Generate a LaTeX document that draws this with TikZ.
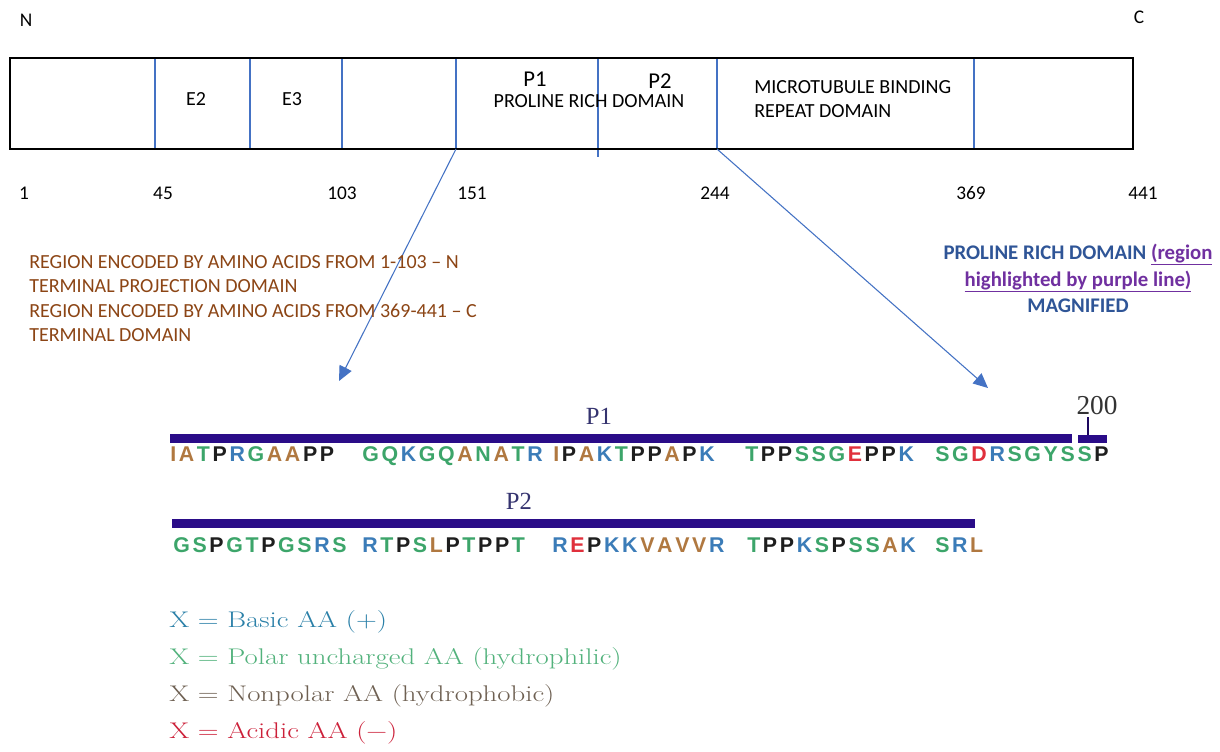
\documentclass[tikz,border=0pt]{standalone}
\usepackage{fontspec}
\usepackage{graphicx}
\usetikzlibrary{arrows.meta}
\newfontfamily\calib{Carlito}
\newfontfamily\seqf{Liberation Sans}
\newfontfamily\timesf{Liberation Serif}
\definecolor{lblue}{HTML}{4472C4}
\definecolor{dblue}{HTML}{2F5597}
\definecolor{purp}{HTML}{7030A0}
\definecolor{ornge}{HTML}{8C4515}
\definecolor{barc}{HTML}{2A0C88}
\definecolor{plab}{HTML}{35336F}
\definecolor{cB}{HTML}{3B7CB8}
\definecolor{cU}{HTML}{3CA56A}
\definecolor{cN}{HTML}{B07840}
\definecolor{cA}{HTML}{E0303C}
\definecolor{cP}{HTML}{1E1E1E}
\definecolor{lgB}{HTML}{2A80A8}
\definecolor{lgU}{HTML}{52B27C}
\definecolor{lgN}{HTML}{6E6052}
\definecolor{lgA}{HTML}{CC2039}
\colorlet{sqK}{cB}\colorlet{sqR}{cB}\colorlet{sqH}{cB}
\colorlet{sqS}{cU}\colorlet{sqT}{cU}\colorlet{sqN}{cU}\colorlet{sqQ}{cU}
\colorlet{sqG}{cU}\colorlet{sqY}{cU}\colorlet{sqC}{cU}
\colorlet{sqA}{cN}\colorlet{sqV}{cN}\colorlet{sqL}{cN}\colorlet{sqI}{cN}
\colorlet{sqM}{cN}\colorlet{sqF}{cN}\colorlet{sqW}{cN}
\colorlet{sqD}{cA}\colorlet{sqE}{cA}
\colorlet{sqP}{cP}
\newlength\sqsp
\setlength\sqsp{2pt}
\def\sqrun#1{\ifx#1\relax\else\textcolor{sq#1}{#1}\kern\sqsp\expandafter\sqrun\fi}
\newcommand\sqgroup[1]{\sqrun#1\relax}
\newcommand\legtext[1]{\scalebox{1.27}[1]{#1}}
\begin{document}
\begin{tikzpicture}[x=0.75pt,y=-0.75pt,
  lbl/.style={inner sep=0pt, anchor=base},
  boxtxt/.style={lbl, font=\calib\fontsize{15}{18}\selectfont},
  bigtxt/.style={lbl, font=\calib\fontsize{17}{20}\selectfont},
  numtxt/.style={lbl, font=\calib\fontsize{14.5}{17}\selectfont},
  orgtxt/.style={lbl, anchor=base west, text=ornge, font=\calib\fontsize{15}{18}\selectfont},
  rtxt/.style={lbl, text=dblue, font=\calib\bfseries\fontsize{15.6}{19}\selectfont},
  seq/.style={lbl, anchor=base west, font=\seqf\bfseries\fontsize{16}{18}\selectfont},
  plbl/.style={lbl, text=plab, font=\timesf\fontsize{18.5}{20}\selectfont},
  leg/.style={lbl, anchor=base west, font=\fontsize{17}{20}\selectfont},
  divline/.style={draw=lblue, line width=0.8pt},
  arr/.style={draw=lblue, line width=0.8pt, -{Triangle[length=11pt,width=10pt]}},
  bar/.style={fill=barc}]
\useasboundingbox (0,0) rectangle (1220,751);
\fill[white] (0,0) rectangle (1220,751);

% domain dividers
\foreach \xx in {155,250,342,456,717,974} \draw[divline] (\xx,58) -- (\xx,149);
\draw[divline] (598,58) -- (598,157);
% outer box
\draw[line width=2.2pt] (10,58) rectangle (1133,149);

% ends
\node[numtxt] (nN) at (26,26) {N};
\node[numtxt] (nC) at (1139,23) {C};

% labels in box
\node[boxtxt] (e2) at (196,105) {E2};
\node[boxtxt] (e3) at (292,105) {E3};
\node[bigtxt] (p1) at (535,86) {P1};
\node[bigtxt] (p2) at (660,88) {P2};
\node[boxtxt] (prd) at (589,107) {PROLINE RICH DOMAIN};
\node[boxtxt, anchor=base west] (mtb1) at (754,93) {MICROTUBULE BINDING};
\node[boxtxt, anchor=base west] (mtb2) at (754,117) {REPEAT DOMAIN};

% residue numbers
\node[numtxt] (r1) at (24,199) {1};
\node[numtxt] (r45) at (163,199) {45};
\node[numtxt] (r103) at (342,199) {103};
\node[numtxt] (r151) at (472,199) {151};
\node[numtxt] (r244) at (715,199) {244};
\node[numtxt] (r369) at (971,199) {369};
\node[numtxt] (r441) at (1143,199) {441};

% arrows
\coordinate (s151) at (456,149);
\coordinate (s244) at (717,149);
\coordinate (tA) at (339,381);
\coordinate (tB) at (988,388);
\draw[arr] (s151) -- (tA);
\draw[arr] (s244) -- (tB);

% orange explanatory text
\node[orgtxt] (o1) at (29,268) {REGION ENCODED BY AMINO ACIDS FROM 1-103 – N};
\node[orgtxt] (o2) at (29,292) {TERMINAL PROJECTION DOMAIN};
\node[orgtxt] (o3) at (29,317) {REGION ENCODED BY AMINO ACIDS FROM 369-441 – C};
\node[orgtxt] (o4) at (29,341) {TERMINAL DOMAIN};

% right text
\node[rtxt] (m1) at (1078,259) {PROLINE RICH DOMAIN \textcolor{purp}{\underline{(region}}};
\node[rtxt] (m2) at (1078,286) {\textcolor{purp}{\underline{highlighted by purple line)}}};
\node[rtxt] (m3) at (1078,312) {MAGNIFIED};

% magnified sequence: row 1
\fill[bar] (170,434) rectangle (1072,443);
\fill[bar] (1078,435) rectangle (1107,443);
\draw[barc!70!black, line width=1.3pt] (1088,417) -- (1088,435);
\node[plbl] (sp1) at (599,424) {P1};
\node[plbl, text=black!80, font=\timesf\fontsize{20.5}{22}\selectfont] (s200) at (1097,414) {200};
\node[seq] (g1) at (170,461) {\sqgroup{IATPRGAAPP}};
\node[seq] (g2) at (362,461) {\sqgroup{GQKGQANATR}};
\node[seq] (g3) at (553,461) {\sqgroup{IPAKTPPAPK}};
\node[seq] (g4) at (745,461) {\sqgroup{TPPSSGEPPK}};
\node[seq] (g5) at (935,461) {\sqgroup{SGDRSGYSSP}};

% row 2
\fill[bar] (172,519) rectangle (975,528);
\node[plbl] (sp2) at (519,509) {P2};
\node[seq] (h1) at (173,552) {\sqgroup{GSPGTPGSRS}};
\node[seq] (h2) at (362,552) {\sqgroup{RTPSLPTPPT}};
\node[seq] (h3) at (552,552) {\sqgroup{REPKKVAVVR}};
\node[seq] (h4) at (747,552) {\sqgroup{TPPKSPSSAK}};
\node[seq] (h5) at (935,552) {\sqgroup{SRL}};

% legend
\node[leg, text=lgB] (k1) at (169,627) {\legtext{X = Basic AA (+)}};
\node[leg, text=lgU] (k2) at (169,664) {\legtext{X = Polar uncharged AA (hydrophilic)}};
\node[leg, text=lgN] (k3) at (169,701) {\legtext{X = Nonpolar AA (hydrophobic)}};
\node[leg, text=lgA] (k4) at (169,738) {\legtext{X = Acidic AA (\textminus)}};
\end{tikzpicture}
\end{document}
